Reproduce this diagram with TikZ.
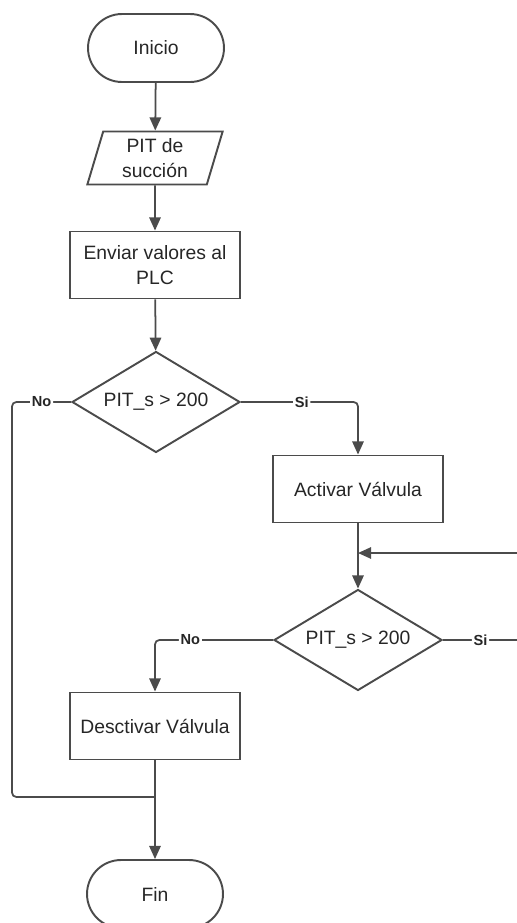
\documentclass[tikz,border=0pt]{standalone}
\usepackage{fontspec}
\setmainfont{Liberation Sans}
\usetikzlibrary{shapes.geometric, arrows.meta}

\begin{document}
\begin{tikzpicture}[x=0.02cm, y=-0.02cm,
    every node/.style={font=\fontsize{11}{14}\selectfont, text=black!85},
    terminal/.style={draw=linecolor, line width=1.1pt, rounded corners=0.68cm, minimum width=2.72cm, minimum height=1.36cm},
    inputbox/.style={draw=linecolor, line width=1.1pt, trapezium, trapezium stretches=true, trapezium left angle=76, trapezium right angle=104, minimum width=2.72cm, minimum height=1.06cm, align=center, inner sep=1pt},
    process/.style={draw=linecolor, line width=1.1pt, minimum width=3.4cm, minimum height=1.34cm, align=center},
    decision/.style={draw=linecolor, line width=1.1pt, diamond, aspect=1.7, inner sep=0pt, minimum width=3.36cm, minimum height=2.02cm},
    line/.style={draw=linecolor, line width=1pt, rounded corners=2.5pt},
    arrow/.style={line, -{Triangle[length=7.5pt, width=6.5pt]}},
    lbl/.style={font=\bfseries\fontsize{8.3}{10}\selectfont, fill=white, inner sep=1pt}
]
    % Define colors
    \definecolor{linecolor}{RGB}{75, 75, 75}

    % Page
    \useasboundingbox (0, 0) rectangle (517, 923);

    % Nodes
    \node[terminal] (inicio) at (156, 48) {Inicio};
    \node[inputbox] (pit) at (155, 158) {PIT de\\succión};
    \node[process] (enviar) at (155, 265) {Enviar valores al\\PLC};
    \node[decision] (dec1) at (156, 402) {PIT\_s > 200};
    \node[process] (activar) at (358, 489) {Activar Válvula};
    \node[decision] (dec2) at (358, 640) {PIT\_s > 200};
    \node[process] (desact) at (155, 726) {Desctivar Válvula};
    \node[terminal] (fin) at (155, 894) {Fin};

    % Bend points
    \coordinate (noturn) at (12, 402);
    \coordinate (join) at (155, 797);
    \coordinate (loopout) at (560, 640);
    \coordinate (loopin) at (358, 553);

    % Connectors
    \draw[arrow] (inicio) -- (pit);
    \draw[arrow] (pit) -- (enviar);
    \draw[arrow] (enviar) -- (dec1);
    \draw[arrow] (dec1.east) -| node[lbl, pos=0.26] {Si} (activar.north);
    \draw[line] (dec1.west) -- node[lbl] {No} (noturn) |- (join);
    \draw[arrow] (activar) -- (dec2);
    \draw[arrow] (dec2.west) -| node[lbl, pos=0.35] {No} (desact.north);
    \draw[arrow] (dec2.east) -- node[lbl, pos=0.32] {Si} (loopout) |- (loopin);
    \draw[arrow] (desact) -- (fin);

\end{tikzpicture}
\end{document}
